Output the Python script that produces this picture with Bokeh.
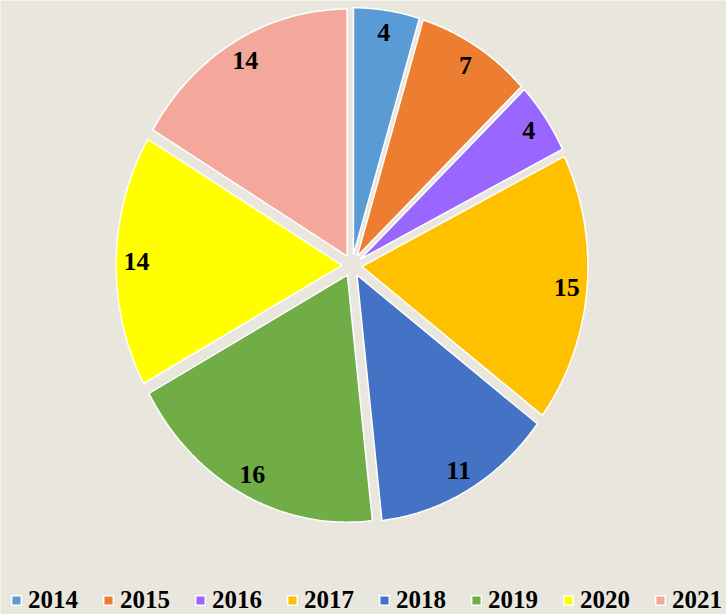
import numpy as np
from bokeh.plotting import figure
from bokeh.models import Range1d, Legend, LegendItem
from bokeh.embed import file_html
from bokeh.resources import INLINE
from bokeh.core.properties import value

# ---- data ----
years = ["2014", "2015", "2016", "2017", "2018", "2019", "2020", "2021"]
counts = [4, 7, 4, 15, 11, 16, 14, 14]
colors = ["#5B9BD5", "#ED7D31", "#9966FF", "#FFC000", "#4472C4", "#70AD47", "#FFFF00", "#F4A89B"]

# ---- style / layout ----
BG = "#E9E6DE"
W, H = 726, 614
CX, CY = 351.5, 349.0      # pie centre in figure pixels (from left, from bottom)
RX, RY = 226.0, 247.0      # pixels per data unit (pie drawn slightly taller than wide)
EXPLODE = 0.044
LABEL_R = 0.91
FONT = "Liberation Serif"

p = figure(width=W, height=H, output_backend="svg", toolbar_location=None,
           x_range=Range1d(-CX / RX, (W - CX) / RX),
           y_range=Range1d(-CY / RY, (H - CY) / RY),
           x_axis_location=None, y_axis_location=None,
           min_border=0, background_fill_color=BG, border_fill_color=BG,
           outline_line_color=None)
p.grid.visible = False

total = float(sum(counts))
cum = np.cumsum([0] + counts) / total * 2 * np.pi
items = []
lab_x, lab_y, lab_t = [], [], []
for i, (yr, cnt, col) in enumerate(zip(years, counts, colors)):
    a, b = cum[i], cum[i + 1]
    mid = (a + b) / 2
    ox, oy = EXPLODE * np.sin(mid), EXPLODE * np.cos(mid)
    t = np.linspace(a, b, 120)
    xs = np.concatenate([[ox], ox + np.sin(t)])
    ys = np.concatenate([[oy], oy + np.cos(t)])
    r = p.patch(xs, ys, fill_color=col, line_color="white", line_width=1.5)
    items.append(LegendItem(label=yr, renderers=[r]))
    lab_x.append(ox + LABEL_R * np.sin(mid))
    lab_y.append(oy + LABEL_R * np.cos(mid))
    lab_t.append(str(cnt))

p.text(x=lab_x, y=lab_y, text=lab_t, text_align="center", text_baseline="middle",
       text_font=value(FONT), text_font_style="bold", text_font_size="26px",
       text_color="black")

legend = Legend(items=items, orientation="horizontal", location=(10, 0),
                padding=0, margin=0, spacing=24, glyph_width=12, glyph_height=12,
                label_standoff=6, label_height=24,
                label_text_font=FONT, label_text_font_style="bold",
                label_text_font_size="25px", label_text_color="black",
                background_fill_alpha=0, border_line_color=None)
p.add_layout(legend)

html = file_html(p, INLINE)
html = html.replace("<body>", '<body style="margin:0;background-color:%s;">' % BG, 1)
open("out.html", "w").write(html)
